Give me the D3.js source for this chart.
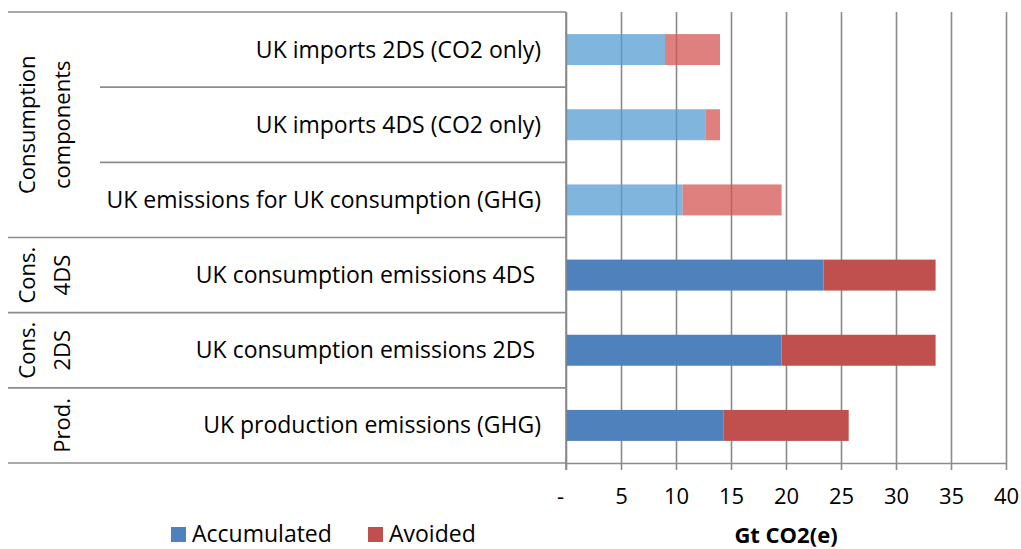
<!DOCTYPE html>
<html>
<head>
<meta charset="utf-8">
<script src="https://cdn.jsdelivr.net/npm/d3@7"></script>
<style>
    body { margin: 0; background: #fff; }
    svg { font-family: "Open Sans", sans-serif; }
    .axis-label { font-size: 22px; fill: #000; }
    .legend-label { font-size: 23px; fill: #000; }
    .tick text { font-size: 22px; fill: #000; font-family: "Open Sans", sans-serif; }
    .cat-label { font-size: 23px; fill: #000; white-space: pre; }
</style>
</head>
<body>
<div id="chart"></div>
<script>
// categories top to bottom, as in the source chart
let categories = [
    "UK imports 2DS (CO2 only)",
    "UK imports 4DS (CO2 only)",
    "UK emissions for UK consumption (GHG)",
    "UK consumption emissions 4DS ",
    "UK consumption emissions 2DS ",
    "UK production emissions (GHG)"
];
let accumulated = [9.0, 12.7, 10.6, 23.4, 19.6, 14.3];
let avoided = [5.0, 1.3, 9.0, 10.2, 14.0, 11.4];

// outer level of the category axis
let groupNames = [["Consumption", "components"], ["Cons.", "4DS"], ["Cons.", "2DS"], ["", "Prod."]];
let groupSizes = [3, 1, 1, 1];

let seriesNames = ["Accumulated", "Avoided"];
let xTicks = [0, 5, 10, 15, 20, 25, 30, 35, 40];

let width = 1021;
let height = 549;

// Graph margin settings
let margin = { top: 12, right: 15, bottom: 86, left: 566 };
let drawWidth = width - margin.left - margin.right;
let drawHeight = height - margin.top - margin.bottom;

let darkColors = ["#4f81bd", "#c0504d"];
let lightColors = ["rgb(86,158,211)", "rgb(212,86,83)"];

let svg = d3.select("#chart").append("svg")
    .attr("width", width)
    .attr("height", height);

let xScale = d3.scaleLinear().domain([0, 40]).range([margin.left, margin.left + drawWidth]);
let yScale = d3.scaleBand().domain(categories)
    .range([margin.top, margin.top + drawHeight])
    .paddingInner(0.588)
    .paddingOuter(0.294);

let step = yScale.step();
let yTop = margin.top;
let yBottom = margin.top + drawHeight;

// vertical gridlines (behind bars)
svg.append("g")
    .attr("transform", `translate(0, ${yBottom})`)
    .call(d3.axisBottom(xScale).tickValues(xTicks).tickSize(-drawHeight).tickFormat(""))
    .call(g => g.select(".domain").remove())
    .call(g => g.selectAll("line").attr("stroke", "#8a8a8a").attr("stroke-width", 1.6));

// stacked bars
let stackData = categories.map((c, i) => ({ cat: c, i: i, Accumulated: accumulated[i], Avoided: avoided[i] }));
let stacked = d3.stack().keys(seriesNames)(stackData);

// first group is drawn in the lighter shade
let lightCount = groupSizes[0];

stacked.forEach((layer, k) => {
    svg.append("g")
        .selectAll("rect")
        .data(layer)
        .join("rect")
        .attr("x", d => xScale(d[0]))
        .attr("y", d => yScale(d.data.cat))
        .attr("width", d => xScale(d[1]) - xScale(d[0]))
        .attr("height", yScale.bandwidth())
        .attr("fill", d => d.data.i < lightCount ? lightColors[k] : darkColors[k])
        .attr("fill-opacity", d => d.data.i < lightCount ? 0.75 : 1);
});

// bottom axis with tick labels
let xAxis = svg.append("g")
    .attr("transform", `translate(0, ${yBottom})`)
    .call(d3.axisBottom(xScale).tickValues(xTicks).tickSize(7).tickPadding(18)
        .tickFormat(d => d === 0 ? "-" : d));
xAxis.select(".domain").attr("d", `M${margin.left},0.5H${margin.left + drawWidth}`)
    .attr("stroke", "#8a8a8a").attr("stroke-width", 1.6);
xAxis.selectAll(".tick line").attr("stroke", "#8a8a8a").attr("stroke-width", 1.6);
xAxis.selectAll(".tick text").filter(d => d === 0).attr("dx", -6);

// left axis line
svg.append("line")
    .attr("x1", margin.left).attr("x2", margin.left)
    .attr("y1", yTop).attr("y2", yBottom + 7)
    .attr("stroke", "#8a8a8a").attr("stroke-width", 1.6);

// category boundaries: full lines at group edges, short ones inside groups
let groupEdges = [0];
groupSizes.forEach(s => groupEdges.push(groupEdges[groupEdges.length - 1] + s));
let boundaries = d3.range(categories.length + 1);

svg.append("g")
    .selectAll("line")
    .data(boundaries)
    .join("line")
    .attr("x1", d => groupEdges.includes(d) ? 8 : 100)
    .attr("x2", margin.left)
    .attr("y1", d => yTop + d * step)
    .attr("y2", d => yTop + d * step)
    .attr("stroke", "#8c8c8c")
    .attr("stroke-width", 1.6);

// category labels
svg.append("g")
    .selectAll("text")
    .data(categories)
    .join("text")
    .attr("class", "cat-label")
    .attr("x", 541)
    .attr("y", d => yScale(d) + yScale.bandwidth() / 2)
    .attr("dy", "0.35em")
    .attr("text-anchor", "end")
    .text(d => d);

// group labels, rotated
groupNames.forEach((lines, gi) => {
    let yMid = yTop + step * (groupEdges[gi] + groupSizes[gi] / 2);
    lines.forEach((line, li) => {
        if (!line) return;
        svg.append("text")
            .attr("class", "axis-label")
            .attr("transform", `translate(${27 + li * 35}, ${yMid}) rotate(-90)`)
            .attr("dy", "0.35em")
            .attr("text-anchor", "middle")
            .text(line);
    });
});

// x axis title
svg.append("text")
    .attr("x", xScale(20))
    .attr("y", 543)
    .attr("text-anchor", "middle")
    .style("font-size", "22px")
    .style("font-weight", "bold")
    .text("Gt CO2(e)");

// legend
let legendX = [171, 368];
let legend = svg.append("g")
    .selectAll("g")
    .data(seriesNames)
    .join("g")
    .attr("transform", (d, i) => `translate(${legendX[i]}, 527)`);

legend.append("rect")
    .attr("width", 15)
    .attr("height", 15)
    .attr("fill", (d, i) => darkColors[i]);

legend.append("text")
    .attr("class", "legend-label")
    .attr("x", 21)
    .attr("y", 15)
    .text(d => d);
</script>
</body>
</html>
